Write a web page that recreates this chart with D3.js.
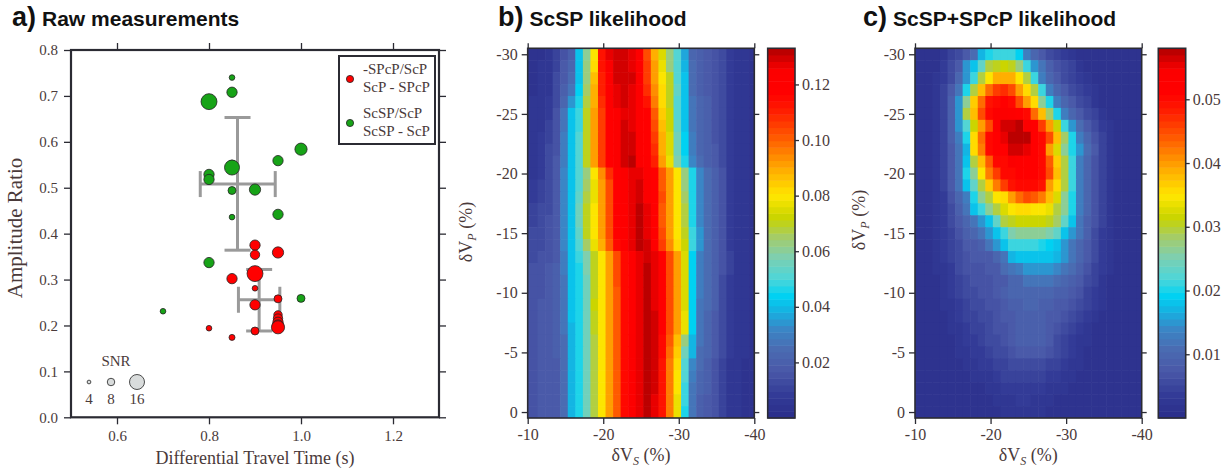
<!DOCTYPE html>
<html><head><meta charset="utf-8">
<script src="https://cdn.jsdelivr.net/npm/d3@7"></script>
<style>
body{margin:0;background:#fff;}
svg text{font-family:"Liberation Serif","Times New Roman",serif;fill:#4a3a3a;}
svg text.title{font-family:"Liberation Sans",Arial,sans-serif;font-weight:bold;fill:#111;}
</style></head><body>
<svg id="chart" width="1229" height="472"></svg>
<script>
// ---------------- Panel a data ----------------
const greenX   = [0.85,0.85,0.80,1.00,0.95,0.85,0.85,0.80,0.80,0.85,0.90,0.95,0.85,0.80,1.00,0.70];
const greenY   = [0.740,0.708,0.6875,0.584,0.559,0.552,0.544,0.529,0.518,0.494,0.496,0.442,0.436,0.337,0.259,0.231];
const greenSNR = [6,11,17,13,11,8,16,11,11,8.5,12,11,6,11,8.5,6];
const redX     = [0.90,0.90,0.95,0.85,0.90,0.90,0.95,0.90,0.95,0.95,0.95,0.95,0.95,0.80,0.90,0.85];
const redY     = [0.375,0.354,0.359,0.302,0.313,0.281,0.258,0.245,0.223,0.215,0.207,0.200,0.196,0.194,0.188,0.174];
const redSNR   = [11,10,12,11,17,6,8.5,11,9,10,11,12,14,6,8.5,6.4];
// error bars: [x, y, xlo, xhi, ylo, yhi]
const errGreen = [0.862,0.508,0.781,0.944,0.364,0.653];
const errRed   = [0.909,0.256,0.864,0.954,0.188,0.322];
const xTicksA = [0.6,0.8,1.0,1.2];
const yTicksA = [0.0,0.1,0.2,0.3,0.4,0.5,0.6,0.7,0.8];
const snrLegend = [4,8,16];
const legendLabels = [["-SPcP/ScP","ScP - SPcP"],["ScSP/ScP","ScSP - ScP"]];

// ---------------- Panels b, c data ----------------
const dVsCenters = d3.range(30).map(i => -10.5 - i);   // 1% cells from -10 to -40
const dVpCenters = d3.range(31).map(i => -30 + i);     // 1% cells centred -30 .. 0
const xTicksBC = [-10,-20,-30,-40];
const yTicksBC = [-30,-25,-20,-15,-10,-5,0];
const cbTicksB = [0.02,0.04,0.06,0.08,0.10,0.12];
const cbTicksC = [0.01,0.02,0.03,0.04,0.05];
const cbMaxB = 0.133, cbMaxC = 0.058;

// ScSP likelihood (x 1e-3), rows dVp = -30 .. 0, columns dVs = -10.5 .. -39.5
const likelihoodB = [
[4,4,5,10,16,20,42,60,80,112,126,130,129,126,119,104,90,75,62,50,37,22,20,18,16,12,8,6,5,4],
[4,5,5,11,17,22,42,62,82,112,124,130,130,127,120,106,91,77,64,51,38,24,20,18,16,12,8,6,5,4],
[4,5,6,12,18,25,42,64,86,110,120,129,130,129,120,106,92,80,70,52,42,24,20,18,16,12,8,6,5,4],
[4,5,7,13,19,28,44,66,88,110,121,128,130,128,120,108,93,81,70,53,42,26,21,18,16,12,8,6,5,4],
[5,6,8,14,22,34,46,68,90,108,120,127,130,128,121,112,96,82,71,52,42,28,22,19,16,12,8,6,5,4],
[5,6,9,15,28,42,48,70,92,106,118,123,128,127,120,117,102,84,72,52,42,28,22,19,16,12,8,6,5,4],
[5,7,10,15,28,42,48,70,92,106,118,124,129,128,121,118,104,86,73,54,42,28,22,19,16,12,8,6,5,4],
[6,8,11,16,30,42,50,70,92,106,118,124,129,129,122,118,106,88,74,55,43,30,23,20,16,12,8,6,5,4],
[6,8,12,16,30,42,50,70,92,106,118,124,129,130,123,118,108,90,75,56,44,30,23,20,17,12,8,6,5,4],
[6,9,12,17,30,42,50,70,92,106,118,124,130,132,124,119,110,92,78,58,46,32,24,20,17,13,8,6,5,4],
[7,9,13,17,32,42,50,64,80,94,108,118,124,128,128,122,118,102,92,80,64,46,32,25,20,15,9,6,5,4],
[8,10,13,17,33,42,52,66,78,92,104,118,122,127,129,124,118,102,92,80,64,46,33,25,20,15,9,6,5,4],
[9,11,14,18,33,42,54,68,78,92,104,118,122,128,130,124,118,104,92,80,66,46,33,25,20,15,9,6,5,4],
[10,12,14,18,33,42,55,70,80,92,104,118,120,127,131,127,118,102,92,80,68,46,33,25,20,15,9,6,5,4],
[11,12,15,18,33,42,55,70,80,92,104,118,120,128,132,127,118,102,92,80,68,46,33,25,20,15,9,6,5,4],
[12,13,15,18,32,42,54,70,80,92,104,118,120,128,132,128,119,104,92,80,70,48,34,25,20,15,9,6,5,4],
[13,14,15,18,31,42,52,66,78,90,102,114,120,127,131,129,120,106,94,82,72,48,34,25,20,15,9,6,5,4],
[14,15,16,18,30,42,48,58,70,80,92,104,116,120,128,130,127,118,104,92,74,44,30,24,20,15,10,7,5,4],
[15,16,17,19,29,42,47,57,70,80,92,104,116,120,128,131,128,118,104,92,74,44,30,24,20,15,10,7,5,4],
[15,16,17,19,28,42,47,56,70,80,92,103,116,120,128,131,128,118,104,92,74,44,29,24,20,14,9,7,5,4],
[16,16,17,19,28,42,47,56,69,80,92,102,116,120,128,131,128,118,104,92,74,44,29,24,19,14,9,6,5,4],
[16,17,17,19,27,41,47,56,72,80,92,102,116,120,128,131,128,118,104,92,75,44,28,24,19,13,9,6,5,4],
[16,17,18,19,27,41,47,56,70,80,92,101,116,121,128,131,129,118,104,92,76,44,28,23,18,13,8,6,5,4],
[16,17,18,19,27,40,46,55,69,80,92,101,116,121,128,131,129,118,104,92,76,44,28,23,18,13,8,6,5,4],
[16,17,18,19,26,40,46,55,68,80,92,100,115,122,128,131,129,116,100,86,62,40,27,22,17,12,8,6,5,4],
[16,17,18,19,26,40,46,55,68,80,92,100,115,122,128,131,129,114,98,84,56,40,26,22,17,12,8,6,5,4],
[16,17,18,18,26,40,46,55,68,80,92,100,115,122,128,131,129,113,97,82,52,32,24,20,16,11,7,5,4,4],
[16,17,18,18,26,40,46,55,68,80,92,100,115,122,128,131,129,112,96,80,50,30,22,19,15,11,7,5,4,4],
[16,17,18,18,26,40,46,55,68,80,92,100,115,122,128,131,129,112,96,80,48,28,22,19,15,11,7,5,4,4],
[16,17,18,18,26,40,46,55,68,80,92,100,115,122,128,131,128,112,95,78,48,28,21,18,15,10,7,5,4,4],
[16,17,18,18,26,40,46,55,68,80,92,100,115,122,128,131,128,112,95,78,46,28,21,18,15,10,7,5,4,4]
];

// ScSP+SPcP likelihood (x 1e-4), same grid
const likelihoodC = [
[15,15,18,30,45,60,75,110,170,200,215,215,210,190,130,95,80,60,45,35,25,20,15,15,15,15,15,15,15,15],
[15,15,20,35,55,75,150,185,230,290,310,315,305,270,215,150,115,85,70,55,45,30,20,15,15,15,15,15,15,15],
[15,18,25,40,60,95,150,210,290,350,385,390,385,350,290,215,125,95,75,60,50,40,28,20,15,15,15,15,15,15],
[15,18,28,45,75,120,205,295,380,430,465,470,450,400,360,290,215,125,95,80,60,50,35,25,18,15,15,15,15,15],
[15,20,30,50,85,150,260,365,430,495,505,510,500,450,400,360,260,205,125,95,75,60,45,30,20,15,15,15,15,15],
[15,20,30,50,90,150,290,380,450,505,535,540,535,510,505,430,380,280,205,125,95,75,60,45,30,20,15,15,15,15],
[15,20,30,50,90,150,220,320,400,455,540,560,565,570,540,510,460,400,320,215,150,110,80,60,40,25,15,15,15,15],
[15,20,30,50,85,130,205,360,430,505,515,550,575,580,575,515,505,455,380,285,205,125,95,70,45,25,15,15,15,15],
[15,20,30,50,80,120,170,360,420,505,510,515,560,565,555,515,505,400,330,260,205,150,110,75,45,25,15,15,15,15],
[15,20,30,50,80,120,185,300,380,435,500,505,540,520,515,510,505,440,365,290,215,125,95,70,45,25,15,15,15,15],
[15,18,28,45,75,120,205,260,350,420,465,500,505,510,510,510,505,450,380,300,215,125,95,70,45,25,15,15,15,15],
[15,18,28,45,75,120,185,230,300,365,420,465,490,500,505,500,490,400,360,290,215,125,95,70,45,25,15,15,15,15],
[15,18,25,40,65,95,125,205,260,300,345,360,400,430,450,440,420,380,330,260,205,125,95,70,45,25,15,15,15,15],
[15,18,25,40,60,90,120,185,215,260,300,330,350,355,355,350,345,340,300,260,205,125,95,70,45,25,15,15,15,15],
[15,18,25,38,55,75,95,120,150,185,230,290,310,315,320,320,315,305,285,230,185,120,90,65,45,25,15,15,15,15],
[15,18,25,35,50,65,90,95,120,150,185,215,250,260,265,265,260,255,230,185,150,115,85,60,40,25,15,15,15,15],
[15,18,25,35,45,60,75,80,85,120,150,185,210,215,215,210,205,190,185,150,120,95,80,55,40,25,15,15,15,15],
[15,18,22,32,42,55,70,75,75,80,95,120,170,185,185,185,185,180,170,150,120,95,75,55,40,25,15,15,15,15],
[15,18,22,30,40,52,65,70,72,75,78,110,120,125,145,150,150,145,140,120,110,90,70,50,35,22,15,15,15,15],
[15,18,20,28,38,48,60,65,70,72,75,80,95,100,115,120,120,118,110,95,90,75,60,45,30,20,15,15,15,15],
[15,18,20,25,35,45,55,62,68,72,78,88,95,98,100,100,98,95,90,85,75,65,50,38,25,18,15,15,15,15],
[15,15,18,22,30,40,50,55,62,68,72,80,88,92,95,95,92,88,82,75,68,55,42,32,22,16,15,15,15,15],
[15,15,16,20,26,35,45,50,55,62,68,75,82,88,90,90,88,82,75,68,58,45,35,26,18,15,15,15,15,15],
[15,15,15,18,22,30,38,45,50,56,65,72,80,85,88,88,85,78,70,60,48,38,28,20,16,15,15,15,15,15],
[15,15,15,16,20,25,32,38,45,52,60,68,78,85,90,90,85,75,62,50,40,30,22,18,15,15,15,15,15,15],
[15,15,15,15,18,22,28,34,40,46,54,62,70,78,82,82,78,68,56,45,35,26,20,16,15,15,15,15,15,15],
[15,15,15,15,16,18,22,26,32,38,44,50,56,60,62,60,56,50,42,35,28,22,18,15,15,15,15,15,15,15],
[15,15,15,15,15,16,18,22,26,30,36,42,46,50,50,48,45,40,34,28,22,18,16,15,15,15,15,15,15,15],
[15,15,15,15,15,15,16,18,20,24,28,32,36,40,40,38,35,30,26,22,18,16,15,15,15,15,15,15,15,15],
[15,15,15,15,15,15,15,16,18,20,22,26,30,32,32,30,28,24,20,18,16,15,15,15,15,15,15,15,15,15],
[15,15,15,15,15,15,15,15,16,18,20,22,24,25,25,24,22,20,18,16,15,15,15,15,15,15,15,15,15,15]
];

// colour map stops (fraction of colour-bar maximum)
const cmapStops = [0,0.06,0.128,0.188,0.241,0.286,0.331,0.376,0.436,0.489,0.541,0.602,0.669,0.752,0.835,0.88,0.94,1];
const cmapColors = ["#2a2d8a","#323a96","#4a58a8","#4a6cb2","#3a86c6","#18aee0","#00d2f2","#4cd6da","#7ecfb0","#a4cc6a","#c8d400","#ffe600","#ffb000","#ff6000","#ff1a00","#ff0000","#fc0000","#b00000"];

// ---------------- drawing ----------------
const svg = d3.select("#chart");
const ink = "#2b2b33", textCol = "#4a3a3a";
const cmap = d3.scaleLinear().domain(cmapStops).range(cmapColors).interpolate(d3.interpolateRgb).clamp(true);
const NSTEP = 56;
const qcol = t => cmap((Math.min(NSTEP-1, Math.floor(t*NSTEP)) + 0.5)/NSTEP);

function styleAxis(g, fs){
  g.select(".domain").remove();
  g.selectAll(".tick line").attr("stroke", ink).attr("stroke-width",1.3);
  g.selectAll(".tick text").attr("font-size", fs).attr("fill", textCol)
   .attr("font-family",'"Liberation Serif","Times New Roman",serif');
}
function title(xLetter, letter, rest){
  const t = svg.append("text").attr("class","title").attr("x",xLetter).attr("y",26);
  t.append("tspan").attr("font-size",27).text(letter);
  t.append("tspan").attr("font-size",21).attr("dx",6).text(rest);
}

// ===== Panel a =====
(function(){
  const x = d3.scaleLinear().domain([0.5,1.3]).range([71,439]);
  const y = d3.scaleLinear().domain([0,0.8]).range([417.3,50]);
  const fmt = d3.format(".1f");
  svg.append("g").attr("transform","translate(0,417.3)")
    .call(d3.axisBottom(x).tickValues(xTicksA).tickSize(7).tickPadding(6).tickFormat(fmt)).call(g=>styleAxis(g,15));
  svg.append("g").attr("transform","translate(0,50)")
    .call(d3.axisTop(x).tickValues(xTicksA).tickSize(7).tickFormat("")).call(g=>styleAxis(g,15));
  svg.append("g").attr("transform","translate(71,0)")
    .call(d3.axisLeft(y).tickValues(yTicksA).tickSize(7).tickPadding(6).tickFormat(fmt)).call(g=>styleAxis(g,15));
  svg.append("g").attr("transform","translate(439,0)")
    .call(d3.axisRight(y).tickValues(yTicksA).tickSize(7).tickFormat("")).call(g=>styleAxis(g,15));
  svg.append("rect").attr("x",71).attr("y",50).attr("width",368).attr("height",367.3)
    .attr("fill","none").attr("stroke",ink).attr("stroke-width",2.2);

  const eb = svg.append("g").attr("stroke","#9a9a9a").attr("stroke-width",3).attr("fill","none");
  [errGreen, errRed].forEach(e=>{
    const [cx,cy,xlo,xhi,ylo,yhi] = e, cap = 13;
    eb.append("line").attr("x1",x(cx)).attr("x2",x(cx)).attr("y1",y(ylo)).attr("y2",y(yhi));
    eb.append("line").attr("x1",x(cx)-cap).attr("x2",x(cx)+cap).attr("y1",y(ylo)).attr("y2",y(ylo));
    eb.append("line").attr("x1",x(cx)-cap).attr("x2",x(cx)+cap).attr("y1",y(yhi)).attr("y2",y(yhi));
    eb.append("line").attr("x1",x(xlo)).attr("x2",x(xhi)).attr("y1",y(cy)).attr("y2",y(cy));
    eb.append("line").attr("x1",x(xlo)).attr("x2",x(xlo)).attr("y1",y(cy)-cap).attr("y2",y(cy)+cap);
    eb.append("line").attr("x1",x(xhi)).attr("x2",x(xhi)).attr("y1",y(cy)-cap).attr("y2",y(cy)+cap);
  });
  const rS = d3.scaleLinear().domain([0,16]).range([0,7.5]);
  const pts = svg.append("g").attr("stroke","#222").attr("stroke-width",0.8);
  greenX.forEach((v,i)=>pts.append("circle").attr("cx",x(v)).attr("cy",y(greenY[i])).attr("r",rS(greenSNR[i])).attr("fill","#17a317"));
  redX.forEach((v,i)=>pts.append("circle").attr("cx",x(v)).attr("cy",y(redY[i])).attr("r",rS(redSNR[i])).attr("fill","#ff0000"));

  const lg = svg.append("g");
  lg.append("rect").attr("x",339).attr("y",56).attr("width",96).attr("height",88)
    .attr("fill","#fff").attr("stroke",ink).attr("stroke-width",2);
  const fills = ["#ff0000","#17a317"];
  legendLabels.forEach((lab,i)=>{
    const yc = 78 + i*44;
    lg.append("circle").attr("cx",350).attr("cy",yc+1).attr("r",3.6).attr("fill",fills[i]).attr("stroke","#222").attr("stroke-width",0.8);
    lab.forEach((t,j)=>lg.append("text").attr("x",363).attr("y",yc-4+j*18).attr("font-size",15).text(t));
  });
  svg.append("text").attr("x",116).attr("y",366).attr("text-anchor","middle").attr("font-size",15).text("SNR");
  const sx = [89,111,137];
  snrLegend.forEach((s,i)=>{
    svg.append("circle").attr("cx",sx[i]).attr("cy",382).attr("r",rS(s)).attr("fill","#d9dcdc").attr("stroke","#222").attr("stroke-width",0.8);
    svg.append("text").attr("x",sx[i]).attr("y",404).attr("text-anchor","middle").attr("font-size",15).text(s);
  });
  svg.append("text").attr("x",(71+439)/2).attr("y",464).attr("text-anchor","middle").attr("font-size",18).text("Differential Travel Time (s)");
  svg.append("text").attr("transform","translate(22,228) rotate(-90)").attr("text-anchor","middle").attr("font-size",21).text("Amplitude Ratio");
  title(12,"a)","Raw measurements");
})();

// ===== Panels b, c =====
function heatPanel(opt){
  const {x0,x1,cb0,cb1,data,scaleUnit,cbMax,cbTicks,letter,name,titleX,ylabX,ylabY} = opt;
  const top = 48.3, bot = 418, shift = 2.3;
  const x = d3.scaleLinear().domain([-10,-40]).range([x0,x1]);
  const y = d3.scaleLinear().domain([-30.5,0.5]).range([top,bot]);
  const g = svg.append("g");
  data.forEach((row,ri)=>{
    row.forEach((v,ci)=>{
      const cx = dVsCenters[ci], cy = dVpCenters[ri];
      let xa = x(cx+0.5)+shift, xb = x(cx-0.5)+shift;
      if (ci === 0) xa = x0;
      if (ci === row.length-1) xb = x1;
      xb = Math.min(xb, x1);
      const ya = y(cy-0.5), yb = y(cy+0.5);
      g.append("rect").attr("x",xa).attr("y",ya).attr("width",Math.max(0,xb-xa+ (ci===row.length-1?0:0.6))).attr("height",yb-ya+(ri===data.length-1?0:0.6))
        .attr("fill",qcol(v*scaleUnit/cbMax));
    });
  });
  const fmt = d=>String(d);
  svg.append("g").attr("transform",`translate(0,${bot})`)
    .call(d3.axisBottom(x).tickValues(xTicksBC).tickSize(6).tickPadding(5).tickFormat(fmt)).call(a=>styleAxis(a,16));
  svg.append("g").attr("transform",`translate(0,${top})`)
    .call(d3.axisTop(x).tickValues(xTicksBC).tickSize(5).tickFormat("")).call(a=>styleAxis(a,16));
  svg.append("g").attr("transform",`translate(${x0},0)`)
    .call(d3.axisLeft(y).tickValues(yTicksBC).tickSize(6).tickPadding(4).tickFormat(fmt)).call(a=>styleAxis(a,16));
  svg.append("g").attr("transform",`translate(${x1},0)`)
    .call(d3.axisRight(y).tickValues(yTicksBC).tickSize(5).tickFormat("")).call(a=>styleAxis(a,16));
  svg.append("rect").attr("x",x0).attr("y",top).attr("width",x1-x0).attr("height",bot-top)
    .attr("fill","none").attr("stroke",ink).attr("stroke-width",1.6);

  const cy = d3.scaleLinear().domain([0,cbMax]).range([bot,top]);
  const cg = svg.append("g");
  d3.range(NSTEP).forEach(k=>{
    const v0 = k/NSTEP*cbMax, v1 = (k+1)/NSTEP*cbMax;
    cg.append("rect").attr("x",cb0).attr("y",cy(v1)).attr("width",cb1-cb0).attr("height",cy(v0)-cy(v1)+0.5)
      .attr("fill",qcol((k+0.5)/NSTEP));
  });
  svg.append("g").attr("transform",`translate(${cb1},0)`)
    .call(d3.axisRight(cy).tickValues(cbTicks).tickSize(4).tickPadding(3).tickFormat(d3.format(".2f"))).call(a=>styleAxis(a,16));
  cg.append("rect").attr("x",cb0).attr("y",top).attr("width",cb1-cb0).attr("height",bot-top)
    .attr("fill","none").attr("stroke",ink).attr("stroke-width",1.6);

  const xl = svg.append("text").attr("x",(x0+x1)/2).attr("y",461).attr("text-anchor","middle").attr("font-size",18);
  xl.append("tspan").text("δV");
  xl.append("tspan").attr("font-size",12).attr("font-style","italic").attr("dy",4).text("S");
  xl.append("tspan").attr("dy",-4).text(" (%)");
  const yl = svg.append("text").attr("transform",`translate(${ylabX},${ylabY}) rotate(-90)`).attr("text-anchor","middle").attr("font-size",18);
  yl.append("tspan").text("δV");
  yl.append("tspan").attr("font-size",12).attr("font-style","italic").attr("dy",4).text("P");
  yl.append("tspan").attr("dy",-4).text(" (%)");
  title(titleX, letter, name);
}

heatPanel({x0:527.7,x1:754.3,cb0:767.7,cb1:795,data:likelihoodB,scaleUnit:1e-3,cbMax:cbMaxB,cbTicks:cbTicksB,
  letter:"b)",name:"ScSP likelihood",titleX:498,ylabX:472,ylabY:232});
heatPanel({x0:915,x1:1141.7,cb0:1158.3,cb1:1185.7,data:likelihoodC,scaleUnit:1e-4,cbMax:cbMaxC,cbTicks:cbTicksC,
  letter:"c)",name:"ScSP+SPcP likelihood",titleX:863,ylabX:865,ylabY:220});
</script>
</body></html>
